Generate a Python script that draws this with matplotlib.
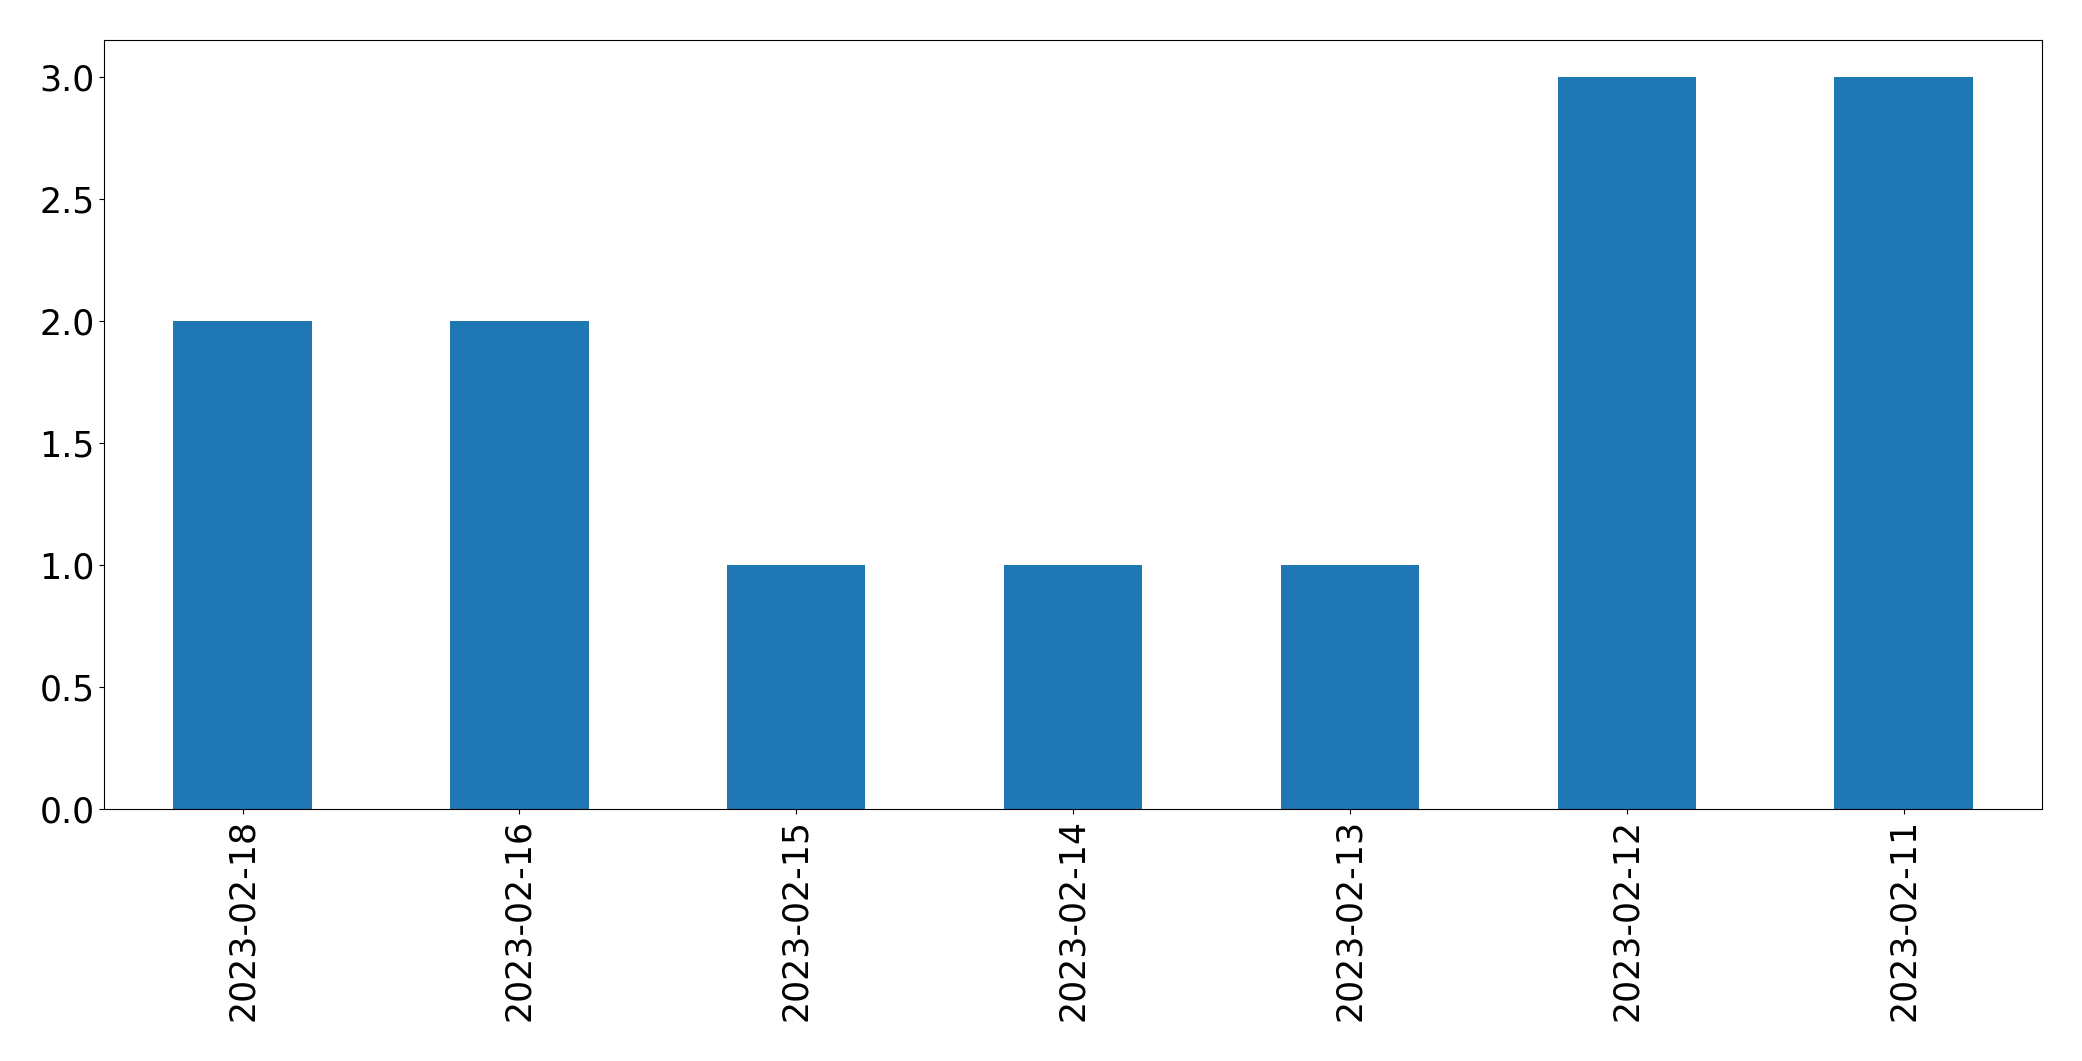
import matplotlib
matplotlib.use("Agg")
import matplotlib.pyplot as plt
import pandas as pd

dates = ["2023-02-18", "2023-02-16", "2023-02-15", "2023-02-14",
         "2023-02-13", "2023-02-12", "2023-02-11"]
counts = [2, 2, 1, 1, 1, 3, 3]

data = pd.Series(counts, index=dates)

fig = plt.figure(figsize=(20.82, 10.61), dpi=100)
ax = fig.add_axes([0.050, 0.2375, 0.9308, 0.7248])
data.plot(kind="bar", ax=ax, color="#1f77b4", fontsize=25)
ax.tick_params(axis="both", labelsize=25)
fig.savefig("out.png", dpi=100)
